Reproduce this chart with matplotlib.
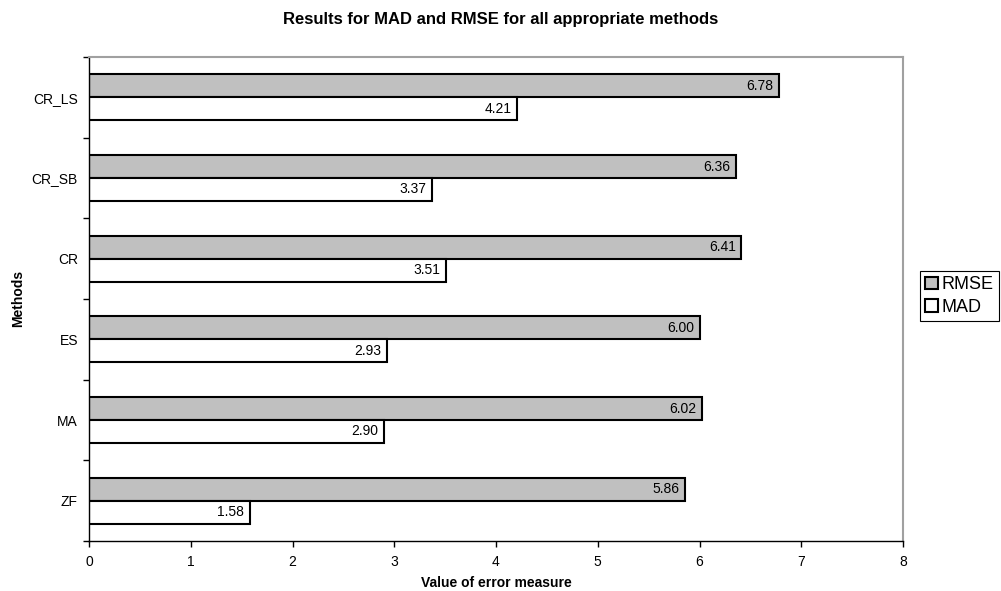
import numpy as np
import matplotlib
matplotlib.use('Agg')
import matplotlib.pyplot as plt

plt.rcParams['font.family'] = ['Liberation Sans', 'DejaVu Sans']

# data, bottom to top as drawn
methods = ['ZF', 'MA', 'ES', 'CR', 'CR_SB', 'CR_LS']
rmse = [5.86, 6.02, 6.00, 6.41, 6.36, 6.78]
mad = [1.58, 2.90, 2.93, 3.51, 3.37, 4.21]

fig = plt.figure(figsize=(10.01, 5.91), dpi=100)
ax = fig.add_axes([89 / 1001, 50 / 591, 814 / 1001, 484 / 591])

y = np.arange(len(methods))
h = 0.285
b_rmse = ax.barh(y + h / 2, rmse, height=h, color='#c0c0c0',
                 edgecolor='black', linewidth=1.5, label='RMSE')
b_mad = ax.barh(y - h / 2, mad, height=h, color='white',
                edgecolor='black', linewidth=1.5, label='MAD')

# value labels inside the end of each bar
for bars in (b_rmse, b_mad):
    for bar in bars:
        ax.annotate('%.2f' % bar.get_width(),
                    (bar.get_width(), bar.get_y() + bar.get_height() / 2),
                    xytext=(-4, 0), textcoords='offset points',
                    ha='right', va='center', fontsize=10)

ax.set_xlim(0, 8)
ax.set_ylim(-0.5, len(methods) - 0.5)
ax.set_xticks(range(9))
ax.set_yticks(y)
ax.set_yticklabels(methods, fontsize=10)
ax.set_yticks(np.arange(-0.5, len(methods)), minor=True)
ax.tick_params(axis='y', which='major', length=0, pad=8)
ax.tick_params(axis='y', which='minor', length=4, width=1)
ax.tick_params(axis='x', length=4, width=1, labelsize=10, pad=6)

for s in ('top', 'right'):
    ax.spines[s].set_color('#a0a0a0')
    ax.spines[s].set_linewidth(1.5)
for s in ('left', 'bottom'):
    ax.spines[s].set_color('black')
    ax.spines[s].set_linewidth(1)

fig.text(0.5, 1 - 19.5 / 591, 'Results for MAD and RMSE for all appropriate methods',
         ha='center', va='center', fontsize=12, fontweight='bold')
fig.text(496 / 1001, 1 - 583 / 591, 'Value of error measure',
         ha='center', va='center', fontsize=10, fontweight='bold')
fig.text(18 / 1001, 1 - 298 / 591, 'Methods', rotation=90,
         ha='center', va='center', fontsize=10, fontweight='bold')

leg = fig.legend(handles=[b_rmse, b_mad], loc='upper left',
                 bbox_to_anchor=(920 / 1001, 1 - 271 / 591),
                 fontsize=13, fancybox=False, framealpha=1,
                 edgecolor='black', handlelength=0.7, handleheight=0.7,
                 handletextpad=0.2, borderpad=0.3, labelspacing=0.3,
                 borderaxespad=0)
leg.get_frame().set_linewidth(0.8)

fig.savefig('out.png', dpi=100)
